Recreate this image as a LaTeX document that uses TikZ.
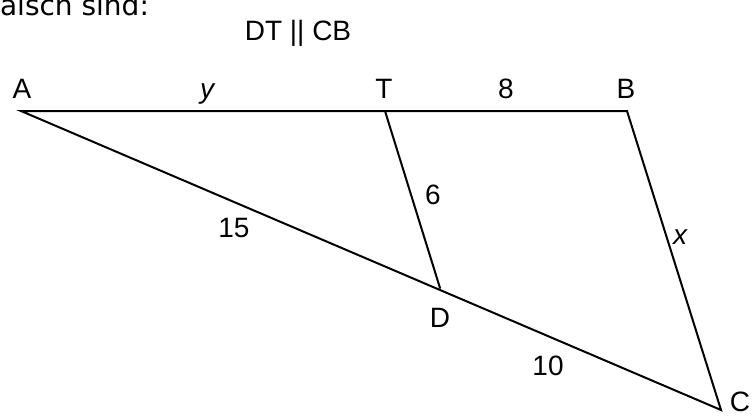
\documentclass[tikz,border=0pt]{standalone}
\usepackage{fontspec}
\setmainfont{Liberation Sans}
\newfontfamily\bodyfont{DejaVu Sans}
\usetikzlibrary{positioning}

\begin{document}
\begin{tikzpicture}[
    x=1pt, y=-1pt,
    font=\fontsize{28}{32}\selectfont,
    seg/.style={line width=2pt, line join=miter, line cap=round},
    lbl/.style={inner sep=0pt, anchor=base},
    ]
\useasboundingbox (0,0) rectangle (754,415);
\clip (0,0) rectangle (754,415);

% ---- cut-off text from the page ----
\node[lbl, anchor=base west, font=\bodyfont\fontsize{28}{32}\selectfont] (task) at (-10,15) {falsch sind:};
\node[lbl] (para) at (298,40) {DT || CB};

% ---- points ----
\coordinate (A) at (21,111);
\coordinate (T) at (385,111);
\coordinate (B) at (627,111);
\coordinate (D) at (440,288);
\coordinate (C) at (721,410);

% ---- point names ----
\node[lbl] (nameA) at (22,98) {A};
\node[lbl] (nameT) at (384,98) {T};
\node[lbl] (nameB) at (626,98) {B};
\node[lbl] (nameD) at (440,327) {D};
\node[lbl] (nameC) at (740,411) {C};

% ---- lengths ----
\node[lbl] (lenY) at (207,98) {\itshape y};
\node[lbl] (len8) at (506,98) {8};
\node[lbl] (len6) at (433,204) {6};
\node[lbl] (len15) at (234,237) {15};
\node[lbl] (lenX) at (680,244) {\itshape x};
\node[lbl] (len10) at (548,375) {10};

% ---- edges ----
\draw[seg] (A) -- (B) -- (C) -- cycle;
\draw[seg] (T) -- (D);
\end{tikzpicture}
\end{document}
